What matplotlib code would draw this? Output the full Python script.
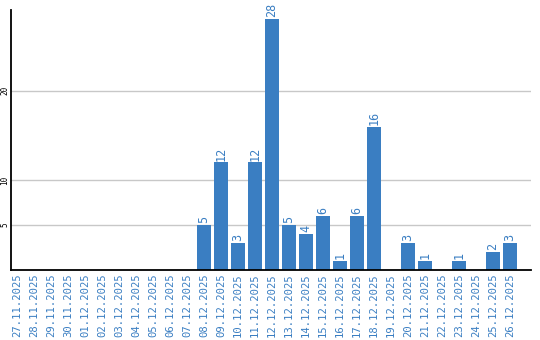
import matplotlib
matplotlib.use("Agg")
import matplotlib.pyplot as plt

dates = [
    "27.11.2025", "28.11.2025", "29.11.2025", "30.11.2025", "01.12.2025",
    "02.12.2025", "03.12.2025", "04.12.2025", "05.12.2025", "06.12.2025",
    "07.12.2025", "08.12.2025", "09.12.2025", "10.12.2025", "11.12.2025",
    "12.12.2025", "13.12.2025", "14.12.2025", "15.12.2025", "16.12.2025",
    "17.12.2025", "18.12.2025", "19.12.2025", "20.12.2025", "21.12.2025",
    "22.12.2025", "23.12.2025", "24.12.2025", "25.12.2025", "26.12.2025",
]
counts = [0, 0, 0, 0, 0, 0, 0, 0, 0, 0, 0,
          5, 12, 3, 12, 28, 5, 4, 6, 1, 6, 16, 0, 3, 1, 0, 1, 0, 2, 3]
yticks = [5, 10, 20]

blue = "#3a7ec2"
mono = "DejaVu Sans Mono"

fig = plt.figure(figsize=(5.4, 3.4), dpi=100)
ax = fig.add_axes([10.5 / 540, 70 / 340, (531 - 10.5) / 540, 260 / 340])

x = list(range(len(dates)))
ax.bar(x, counts, width=0.82, color=blue, zorder=2)
for xi, v in zip(x, counts):
    if v > 0:
        ax.text(xi, v + 0.2, str(v), rotation=90, ha="center", va="bottom",
                color=blue, fontsize=8.5, family=mono)

ax.set_xlim(-0.38, 30.24)
ax.set_ylim(0, 29)
ax.set_yticks(yticks)
ax.set_yticklabels([str(t) for t in yticks], rotation=90, va="center",
                   fontsize=5.5, family=mono)
ax.set_xticks(x)
ax.set_xticklabels(dates, rotation=90, color=blue, fontsize=7.6, family=mono)
ax.tick_params(axis="x", length=0, pad=2)
ax.tick_params(axis="y", length=0, pad=1)
ax.grid(axis="y", color="#c8c8c8", linewidth=1, zorder=0)
ax.spines[["top", "right"]].set_visible(False)
ax.spines[["left", "bottom"]].set_linewidth(1.3)

fig.savefig("out.png", dpi=100, facecolor="white")
